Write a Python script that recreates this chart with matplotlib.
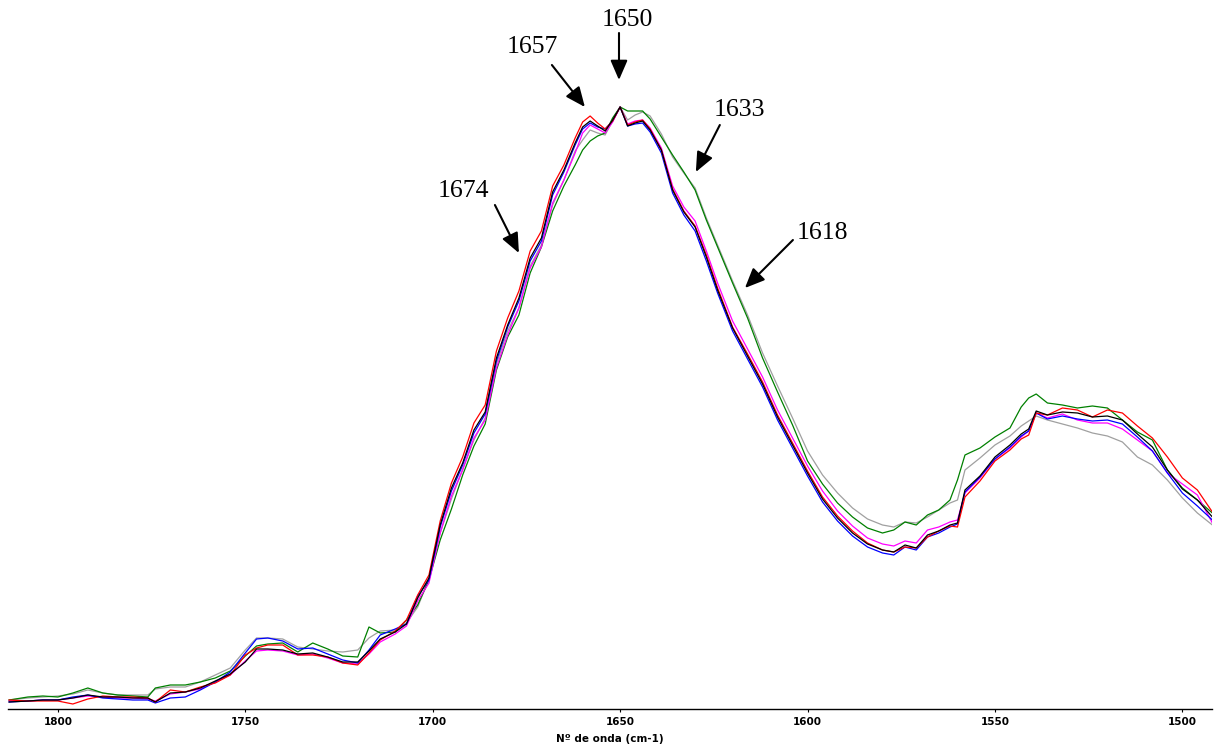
import matplotlib
matplotlib.use("Agg")
import matplotlib.pyplot as plt

# wavenumber grid (cm-1), shared by all spectra
wavenumber = [1813, 1808, 1804, 1800, 1796, 1792, 1788, 1784, 1780, 1776,
              1774, 1770, 1766, 1762, 1758, 1754, 1750, 1747, 1744, 1740,
              1736, 1732, 1728, 1724, 1720, 1717, 1714, 1710, 1707, 1704,
              1701, 1698, 1695, 1692, 1689, 1686, 1683, 1680, 1677, 1674,
              1671, 1668, 1665, 1662, 1660, 1658, 1656, 1654, 1652, 1650,
              1648, 1646, 1644, 1642, 1639, 1636, 1633, 1630, 1627, 1624,
              1620, 1616, 1612, 1608, 1604, 1600, 1596, 1592, 1588, 1584,
              1580, 1577, 1574, 1571, 1568, 1565, 1562, 1560, 1558, 1554,
              1550, 1546, 1543, 1541, 1539, 1536, 1532, 1528, 1524, 1520,
              1516, 1512, 1508, 1504, 1500, 1496, 1492]

# absorbance (arbitrary units)
abs_black = [11, 12, 13, 13, 15, 18, 16, 16, 15, 15,
             11, 20, 21, 25, 32, 39, 51, 64, 64, 63,
             59, 60, 56, 51, 51, 62, 74, 81, 89, 115,
             135, 188, 225, 250, 283, 301, 355, 388, 415, 455,
             475, 521, 543, 570, 586, 592, 587, 582, 593, 606,
             587, 590, 592, 583, 563, 523, 501, 486, 456, 423,
             385, 357, 329, 296, 268, 240, 214, 195, 180, 169,
             163, 161, 168, 165, 178, 182, 188, 190, 223, 237,
             256, 268, 279, 284, 302, 298, 301, 300, 296, 297,
             293, 279, 266, 243, 224, 213, 196]

abs_blue = [11, 12, 13, 13, 16, 18, 15, 14, 13, 13,
            10, 15, 16, 23, 31, 41, 60, 74, 75, 72,
            64, 65, 59, 53, 50, 63, 78, 84, 89, 117,
            133, 186, 222, 248, 280, 299, 352, 386, 412, 452,
            472, 518, 541, 568, 584, 590, 586, 584, 592, 606,
            587, 589, 590, 581, 560, 520, 498, 482, 452, 420,
            382, 354, 326, 293, 265, 237, 211, 192, 177, 166,
            160, 158, 166, 163, 176, 180, 186, 189, 221, 236,
            254, 266, 277, 282, 300, 294, 297, 294, 292, 293,
            289, 276, 262, 240, 220, 207, 193]

abs_red = [13, 12, 12, 12, 9, 14, 17, 16, 16, 15,
           11, 23, 21, 26, 30, 38, 58, 65, 68, 68,
           58, 58, 56, 50, 48, 60, 73, 82, 93, 118,
           138, 192, 230, 256, 290, 308, 362, 395, 422, 462,
           482, 527, 548, 575, 591, 597, 590, 584, 592, 606,
           588, 591, 593, 584, 563, 524, 502, 487, 458, 425,
           386, 359, 331, 298, 270, 242, 216, 197, 182, 170,
           163, 161, 166, 165, 176, 182, 187, 186, 216, 232,
           252, 263, 274, 278, 300, 298, 305, 303, 296, 303,
           300, 287, 275, 256, 235, 223, 201]

abs_magenta = [12, 12, 13, 13, 15, 17, 16, 15, 15, 14,
               12, 19, 21, 24, 31, 38, 52, 62, 63, 62,
               58, 59, 55, 50, 49, 59, 71, 79, 87, 112,
               130, 180, 217, 243, 275, 293, 345, 378, 405, 445,
               466, 510, 533, 560, 580, 588, 584, 580, 591, 606,
               589, 592, 593, 585, 565, 527, 506, 492, 462, 430,
               392, 364, 336, 303, 275, 247, 222, 202, 187, 175,
               169, 167, 172, 170, 183, 186, 191, 193, 220, 235,
               254, 265, 276, 282, 300, 295, 299, 293, 290, 290,
               284, 273, 262, 240, 229, 218, 190]

abs_green = [13, 16, 17, 16, 20, 25, 20, 18, 17, 16,
             25, 28, 28, 31, 35, 42, 57, 67, 69, 70,
             61, 70, 64, 57, 56, 86, 80, 81, 93, 108,
             133, 173, 204, 238, 267, 289, 343, 376, 398, 440,
             466, 502, 527, 548, 563, 572, 577, 580, 595, 606,
             602, 602, 602, 594, 576, 558, 541, 523, 493, 466,
             430, 395, 355, 321, 288, 252, 229, 210, 196, 185,
             180, 183, 191, 188, 198, 203, 213, 233, 258, 265,
             276, 285, 306, 315, 319, 310, 308, 305, 307, 305,
             293, 281, 273, 243, 225, 213, 200]

abs_gray = [13, 15, 16, 17, 19, 23, 20, 18, 18, 18,
            24, 26, 26, 31, 38, 45, 63, 75, 75, 74,
            66, 64, 62, 61, 63, 75, 82, 83, 90, 106,
            134, 180, 214, 244, 273, 295, 349, 382, 405, 447,
            468, 508, 533, 562, 573, 583, 580, 578, 592, 606,
            593, 598, 601, 597, 579, 556, 540, 525, 495, 468,
            432, 398, 360, 327, 295, 262, 238, 220, 205, 194,
            188, 186, 191, 190, 196, 203, 210, 213, 243, 255,
            268, 277, 287, 292, 297, 293, 289, 285, 280, 277,
            271, 256, 248, 233, 215, 200, 188]

series = [(abs_gray, "#a0a0a0"), (abs_green, "#008000"), (abs_magenta, "#ff00ff"),
          (abs_blue, "#0000ff"), (abs_red, "#ff0000"), (abs_black, "#000000")]

# band labels: text, text position, arrow start, arrow tip (wavenumber, absorbance)
bands = [("1674", (1691.7, 522), (1683.4, 508), (1677.0, 460)),
         ("1657", (1673.5, 666), (1668.2, 648), (1659.4, 606)),
         ("1650", (1648.2, 693), (1650.3, 680), (1650.3, 633)),
         ("1633", (1618.3, 603), (1623.4, 588), (1629.8, 541)),
         ("1618", (1595.9, 480), (1603.9, 473), (1616.7, 425))]

fig = plt.figure(figsize=(12.14, 7.45), dpi=100)
ax = fig.add_axes([8 / 1214, 36 / 745, 1204 / 1214, 709 / 745])

for vals, col in series:
    assert len(vals) == len(wavenumber)
    ax.plot(wavenumber, vals, color=col, lw=0.9)

for txt, tpos, start, tip in bands:
    ax.annotate("", xy=tip, xytext=start,
                arrowprops=dict(arrowstyle="-|>,head_length=0.6,head_width=0.26",
                                color="black", lw=1.5, mutation_scale=20,
                                shrinkA=0, shrinkB=0))
    ax.text(tpos[0], tpos[1], txt, ha="center", va="center",
            family="Liberation Serif", fontsize=18.5)

ax.set_xlim(1813.3, 1492.1)
ax.set_ylim(4, 713)
for s in ["left", "right", "top"]:
    ax.spines[s].set_visible(False)
ax.spines["bottom"].set_linewidth(1.0)
ax.set_yticks([])
ax.set_xticks([1800, 1750, 1700, 1650, 1600, 1550, 1500])
ax.tick_params(axis="x", length=2, width=0.8, pad=4)
for lab in ax.get_xticklabels():
    lab.set_family(["Liberation Sans Narrow", "DejaVu Sans"])
    lab.set_fontweight("bold")
    lab.set_fontsize(7.5)
ax.set_xlabel("Nº de onda (cm-1)", family=["Liberation Sans Narrow", "DejaVu Sans"],
              fontweight="bold", fontsize=7.5, labelpad=5)

fig.savefig("out.png", dpi=100)
